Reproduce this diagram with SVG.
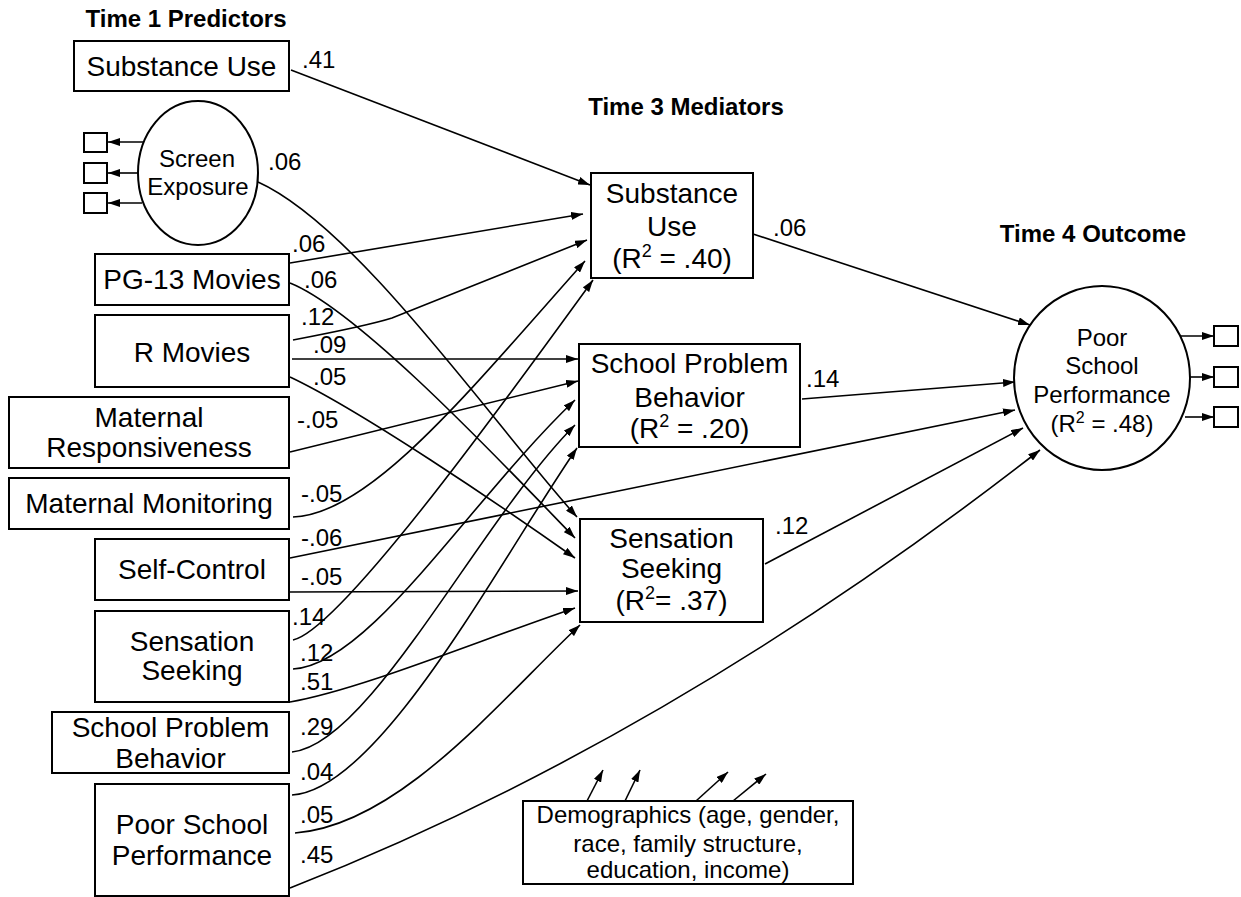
<svg xmlns="http://www.w3.org/2000/svg" width="1241" height="897" viewBox="0 0 1241 897">
<defs>
<marker id="ah" viewBox="0 0 12 8" refX="12" refY="4" markerWidth="12" markerHeight="8" markerUnits="userSpaceOnUse" orient="auto"><path d="M0,0 L12,4 L0,8 z" fill="#000"/></marker>
<style>
.box{fill:#fff;stroke:#000;stroke-width:2}
.t{font-family:"Liberation Sans",Arial,sans-serif;font-size:28px;fill:#000;text-anchor:middle}
.s{font-family:"Liberation Sans",Arial,sans-serif;font-size:24px;fill:#000;text-anchor:middle}
.h{font-family:"Liberation Sans",Arial,sans-serif;font-size:24px;font-weight:bold;fill:#000;text-anchor:middle}
.l{font-family:"Liberation Sans",Arial,sans-serif;font-size:24px;fill:#000}
.c{fill:none;stroke:#000;stroke-width:1.6;marker-end:url(#ah)}
</style>
</defs>
<rect width="1241" height="897" fill="#fff"/>

<g id="headings">
<text class="h" x="186" y="27">Time 1 Predictors</text>
<text class="h" x="686" y="115">Time 3 Mediators</text>
<text class="h" x="1093" y="242">Time 4 Outcome</text>
</g>

<g id="connectors">
<path class="c" d="M291,70 L590,185"/>
<path class="c" d="M290,263 L583,214"/>
<path class="c" d="M293,340 C340,331 370,325 392,318 L587,240"/>
<path class="c" d="M293,517 C370,515 470,390 585,261"/>
<path class="c" d="M293,640 C340,630 503,404 593,280"/>
<path class="c" d="M292,359 L578,359"/>
<path class="c" d="M290,452 L578,381"/>
<path class="c" d="M293,669 C370,665 470,500 575,400"/>
<path class="c" d="M292,752 C370,745 480,520 575,425"/>
<path class="c" d="M292,795 C380,790 500,560 577,448"/>
<path class="c" d="M258,182 C358,227 497,429 577,517"/>
<path class="c" d="M290,283 C360,311 505,466 575,538"/>
<path class="c" d="M290,377 C360,410 500,505 575,558"/>
<path class="c" d="M290,592 L578,591"/>
<path class="c" d="M290,702 C360,690 480,640 575,608"/>
<path class="c" d="M295,833 C400,825 500,700 580,625"/>
<path class="c" d="M753,234 L1030,325"/>
<path class="c" d="M802,399 L1015,382"/>
<path class="c" d="M290,558 L1015,410"/>
<path class="c" d="M765,564 L1023,428"/>
<path class="c" d="M290,888 C540,790 790,645 1040,450"/>
<path class="c" d="M147,142 L108,142"/>
<path class="c" d="M138,173 L108,173"/>
<path class="c" d="M142,203 L108,203"/>
<path class="c" d="M1178,336 L1214,336"/>
<path class="c" d="M1190,377 L1214,377"/>
<path class="c" d="M1185,417 L1214,417"/>
<path class="c" d="M587,801 L603,770"/>
<path class="c" d="M625,801 L640,770"/>
<path class="c" d="M696,801 L728,772"/>
<path class="c" d="M733,801 L766,774"/>
</g>

<g id="labels">
<text class="l" x="302" y="68">.41</text>
<text class="l" x="268" y="170">.06</text>
<text class="l" x="292" y="252">.06</text>
<text class="l" x="304" y="288">.06</text>
<text class="l" x="301" y="325">.12</text>
<text class="l" x="313" y="353">.09</text>
<text class="l" x="313" y="385">.05</text>
<text class="l" x="297" y="428">-.05</text>
<text class="l" x="301" y="502">-.05</text>
<text class="l" x="301" y="546">-.06</text>
<text class="l" x="301" y="585">-.05</text>
<text class="l" x="292" y="625">.14</text>
<text class="l" x="300" y="661">.12</text>
<text class="l" x="300" y="690">.51</text>
<text class="l" x="300" y="735">.29</text>
<text class="l" x="300" y="780">.04</text>
<text class="l" x="300" y="823">.05</text>
<text class="l" x="300" y="863">.45</text>
<text class="l" x="773" y="236">.06</text>
<text class="l" x="806" y="387">.14</text>
<text class="l" x="775" y="534">.12</text>
</g>

<g id="t1-substance-use"><rect class="box" x="74" y="41" width="215" height="50"/><text class="t" x="181.5" y="76">Substance Use</text></g>
<g id="t1-screen-exposure">
<ellipse class="box" cx="198" cy="173" rx="60" ry="72"/>
<text class="s" x="197" y="167">Screen</text><text class="s" x="198" y="195">Exposure</text>
<rect class="box" x="84" y="133" width="23" height="19"/>
<rect class="box" x="84" y="163" width="23" height="20"/>
<rect class="box" x="84" y="193" width="23" height="20"/>
</g>
<g id="t1-pg13"><rect class="box" x="95" y="254" width="194" height="51"/><text class="t" x="192" y="289">PG-13 Movies</text></g>
<g id="t1-r-movies"><rect class="box" x="95" y="315" width="194" height="72"/><text class="t" x="192" y="362">R Movies</text></g>
<g id="t1-maternal-resp"><rect class="box" x="9" y="397" width="280" height="71"/><text class="t" x="149" y="427">Maternal</text><text class="t" x="149" y="457">Responsiveness</text></g>
<g id="t1-maternal-mon"><rect class="box" x="9" y="478" width="280" height="51"/><text class="t" x="149" y="513">Maternal Monitoring</text></g>
<g id="t1-self-control"><rect class="box" x="95" y="539" width="194" height="61"/><text class="t" x="192" y="579">Self-Control</text></g>
<g id="t1-sensation"><rect class="box" x="95" y="611" width="194" height="91"/><text class="t" x="192" y="651">Sensation</text><text class="t" x="192" y="680">Seeking</text></g>
<g id="t1-spb"><rect class="box" x="52" y="712" width="237" height="61"/><text class="t" x="170.5" y="737">School Problem</text><text class="t" x="170.5" y="768">Behavior</text></g>
<g id="t1-psp"><rect class="box" x="95" y="784" width="194" height="112"/><text class="t" x="192" y="834">Poor School</text><text class="t" x="192" y="865">Performance</text></g>

<g id="t3-substance-use"><rect class="box" x="591" y="173" width="162" height="105"/>
<text class="t" x="672" y="203">Substance</text><text class="t" x="672" y="236">Use</text>
<text class="t" x="672" y="268">(R<tspan font-size="18" dy="-11">2</tspan><tspan dy="11"> = .40)</tspan></text></g>
<g id="t3-spb"><rect class="box" x="579" y="344" width="221" height="103"/>
<text class="t" x="689.5" y="373">School Problem</text><text class="t" x="689.5" y="407">Behavior</text>
<text class="t" x="689.5" y="438">(R<tspan font-size="18" dy="-11">2</tspan><tspan dy="11"> = .20)</tspan></text></g>
<g id="t3-sensation"><rect class="box" x="580" y="519" width="183" height="103"/>
<text class="t" x="671.5" y="548">Sensation</text><text class="t" x="671.5" y="578">Seeking</text>
<text class="t" x="671.5" y="610">(R<tspan font-size="18" dy="-11">2</tspan><tspan dy="11">= .37)</tspan></text></g>

<g id="t4-poor-school-performance">
<ellipse class="box" cx="1102" cy="378" rx="88" ry="92"/>
<text class="s" x="1102" y="346">Poor</text><text class="s" x="1102" y="374">School</text>
<text class="s" x="1102" y="403">Performance</text>
<text class="s" x="1102" y="432">(R<tspan font-size="16" dy="-9">2</tspan><tspan dy="9"> = .48)</tspan></text>
<rect class="box" x="1214" y="326" width="24" height="20"/>
<rect class="box" x="1214" y="367" width="24" height="20"/>
<rect class="box" x="1214" y="407" width="24" height="20"/>
</g>

<g id="demographics"><rect class="box" x="523" y="801" width="330" height="83"/>
<text class="s" x="688" y="823">Demographics (age, gender,</text>
<text class="s" x="688" y="852">race, family structure,</text>
<text class="s" x="688" y="878">education, income)</text></g>
</svg>
